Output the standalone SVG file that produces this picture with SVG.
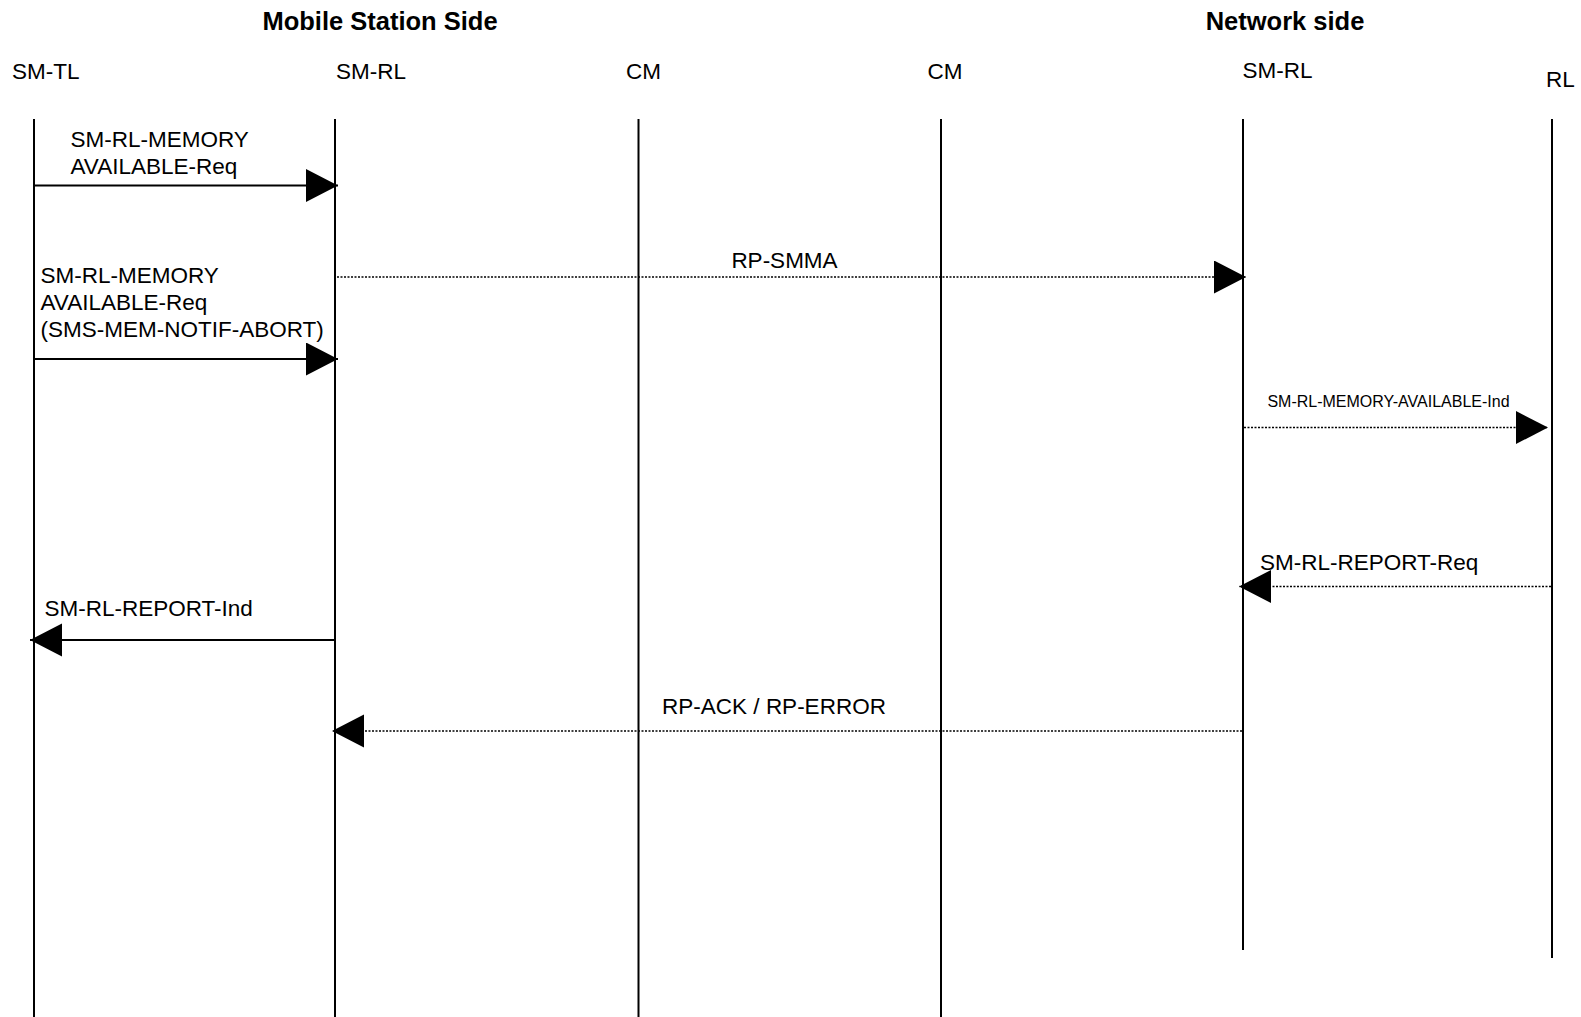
<svg xmlns="http://www.w3.org/2000/svg" width="1581" height="1017" viewBox="0 0 1581 1017">
<defs>
<style>
text{font-family:"Liberation Sans",Arial,sans-serif;fill:#000}
.hdr{font-size:25.5px;font-weight:bold;text-anchor:middle}
.lbl{font-size:22.5px}
.small{font-size:16px}
.life{stroke:#000;stroke-width:2;fill:none}
.solid{stroke:#000;stroke-width:2;fill:none;marker-end:url(#ah)}
.dot{stroke:#000;stroke-width:1.3;stroke-dasharray:2 1.5;fill:none;marker-end:url(#ah)}
</style>
<marker id="ah" markerUnits="userSpaceOnUse" markerWidth="34" markerHeight="34" refX="32" refY="16.5" orient="auto" viewBox="0 0 34 34">
<path d="M0,0 L32,16.5 L0,33 z" fill="#000"/>
</marker>
</defs>
<rect width="1581" height="1017" fill="#fff"/>
<g id="headers">
<text class="hdr" x="380" y="30">Mobile Station Side</text>
<text class="hdr" x="1285" y="30">Network side</text>
</g>
<g id="ms-sm-tl">
<text class="lbl" x="12" y="79">SM-TL</text>
<line class="life" x1="34" y1="119" x2="34" y2="1017"/>
</g>
<g id="ms-sm-rl">
<text class="lbl" x="336" y="79">SM-RL</text>
<line class="life" x1="335" y1="119" x2="335" y2="1017"/>
</g>
<g id="ms-cm">
<text class="lbl" x="626" y="79">CM</text>
<line class="life" x1="638.5" y1="119" x2="638.5" y2="1017"/>
</g>
<g id="nw-cm">
<text class="lbl" x="927.5" y="79">CM</text>
<line class="life" x1="941" y1="119" x2="941" y2="1017"/>
</g>
<g id="nw-sm-rl">
<text class="lbl" x="1242.5" y="78">SM-RL</text>
<line class="life" x1="1243" y1="119" x2="1243" y2="950"/>
</g>
<g id="nw-rl">
<text class="lbl" x="1546" y="87">RL</text>
<line class="life" x1="1552" y1="119" x2="1552" y2="958"/>
</g>
<g id="connectors">
<line class="solid" x1="34" y1="185.5" x2="338" y2="185.5"/>
<text class="lbl" x="70.5" y="147">SM-RL-MEMORY</text>
<text class="lbl" x="70.5" y="174">AVAILABLE-Req</text>
<line class="dot" x1="337" y1="277" x2="1246" y2="277"/>
<text class="lbl" x="784.5" y="268" text-anchor="middle">RP-SMMA</text>
<line class="solid" x1="34" y1="359" x2="338" y2="359"/>
<text class="lbl" x="40.5" y="283">SM-RL-MEMORY</text>
<text class="lbl" x="40.5" y="310">AVAILABLE-Req</text>
<text class="lbl" x="40.5" y="337">(SMS-MEM-NOTIF-ABORT)</text>
<line class="dot" x1="1244" y1="427.5" x2="1548" y2="427.5"/>
<text class="small" x="1388.5" y="406.5" text-anchor="middle">SM-RL-MEMORY-AVAILABLE-Ind</text>
<line class="dot" x1="1551" y1="586.5" x2="1239" y2="586.5"/>
<text class="lbl" x="1260" y="570">SM-RL-REPORT-Req</text>
<line class="solid" x1="335" y1="640" x2="30" y2="640"/>
<text class="lbl" x="44.5" y="615.5">SM-RL-REPORT-Ind</text>
<line class="dot" x1="1242" y1="731" x2="332" y2="731"/>
<text class="lbl" x="774" y="714" text-anchor="middle">RP-ACK / RP-ERROR</text>
</g>
</svg>
